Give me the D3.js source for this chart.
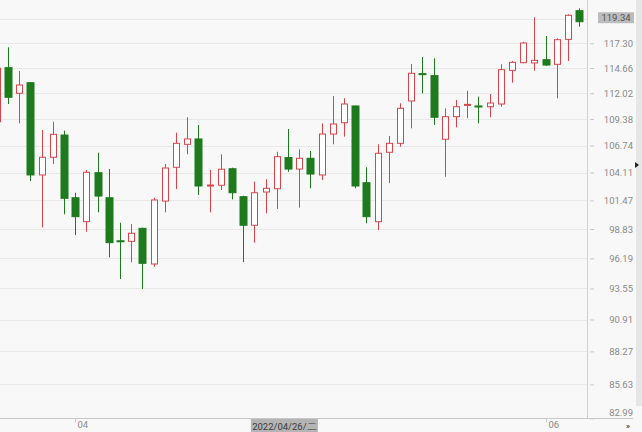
<!DOCTYPE html>
<html>
<head>
<meta charset="utf-8">
<script src="https://cdn.jsdelivr.net/npm/d3@7"></script>
<style>
  html, body { margin: 0; padding: 0; background: #f8f8f8; }
  svg { display: block; }
  text { font-family: Roboto, "Noto Sans", sans-serif; }
</style>
</head>
<body>
<svg id="chart" width="642" height="432"></svg>
<script>
// ---- data ----
const opens  = [109.11,114.69,112.01,113.11,103.88,105.59,107.78,101.72, 99.50,104.10,
                101.72, 97.76, 97.71, 98.89, 95.69,101.41,104.62,106.86,107.39,102.86,
                102.90,104.48,101.82, 99.17,102.26,102.57,105.57,104.45,105.49,103.88,
                107.88,109.01,110.71,103.14, 99.50,106.08,106.96,111.22,114.06,113.85,
                107.36,109.62,110.81,110.71,110.63,110.91,114.41,115.22,115.19,115.54,
                115.05,117.73,120.88];
const highs  = [114.90,116.87,114.34,113.15,108.28,109.11,108.21,102.19,104.36,106.04,
                104.45, 99.40, 99.29, 98.95,101.72,104.94,108.01,109.56,108.78,104.36,
                105.88,104.58,101.91,103.24,103.47,106.13,108.38,106.37,106.20,108.95,
                111.73,111.50,110.74,104.62,106.86,107.68,110.98,115.08,115.82,115.69,
                110.47,111.32,112.28,111.66,111.94,115.05,115.40,117.47,120.15,118.09,
                117.84,120.48,121.15];
const lows   = [108.80,110.91,108.95,103.30, 98.97,104.94,100.18, 98.28, 98.58,100.36,
                 96.28, 94.37, 95.84, 93.51, 95.45,100.36,102.54,105.88,101.98,100.36,
                102.45,101.57, 95.86, 97.59,100.27,100.67,104.19,100.79,102.61,103.40,
                106.86,107.62,102.61, 99.35, 98.74,103.09,106.63,108.45,112.01,108.78,
                103.71,108.55,109.46,108.95,109.56,110.63,113.11,115.16,114.37,114.87,
                111.50,115.40,119.11];
const closes = [114.63,111.60,112.87,103.88,105.59,107.85,101.67, 99.96,104.14,101.88,
                 97.59, 97.70, 98.44, 95.75,101.51,104.55,106.96,107.39,102.83,102.92,
                104.43,102.19, 99.17,102.19,102.61,105.65,104.45,105.49,103.97,107.88,
                108.88,110.91,102.83, 99.96,105.98,106.96,110.47,114.10,113.99,109.56,
                109.62,110.63,110.87,110.65,111.01,114.48,115.26,117.33,115.47,114.97,
                117.69,120.37,119.66];

// grid levels; the top one (119.95) carries no visible label (covered by the price tag)
const gridValues  = [82.99, 85.63, 88.27, 90.91, 93.55, 96.19, 98.83, 101.47, 104.11,
                     106.74, 109.38, 112.02, 114.66, 117.30, 119.95];
const yTickValues = [82.99, 85.63, 88.27, 90.91, 93.55, 96.19, 98.83, 101.47, 104.11,
                     106.74, 109.38, 112.02, 114.66, 117.30];
const xTickIndex  = [7, 49];
const xTickLabels = ["04", "06"];
const crossIndex  = 23;
const crossLabel  = "2022/04/26/二";
const lastPriceLabel = "119.34";

// ---- layout ----
const W = 642, H = 432;
const plotRight = 587, plotBottom = 418.3;
const RED = "#d9434a", GREEN = "#1d7a1d";

const candles = opens.map((o, i) => ({ i, o, h: highs[i], l: lows[i], c: closes[i] }));

const x = d3.scaleBand().domain(d3.range(candles.length)).range([-8.8, 584.8]);
const cx = i => x(i) + x.bandwidth() / 2;
const y = d3.scaleLog().domain([82.99, 117.30]).range([plotBottom, 43.3]);

const svg = d3.select("#chart");
svg.append("rect").attr("width", W).attr("height", H).attr("fill", "#f8f8f8");

// gridlines
svg.append("g").selectAll("line").data(gridValues).join("line")
  .attr("x1", 0).attr("x2", plotRight)
  .attr("y1", d => Math.round(y(d)) + 0.5).attr("y2", d => Math.round(y(d)) + 0.5)
  .attr("stroke", "#e8e8e8").attr("stroke-width", 1);

// candles
const plot = svg.append("g");
const g = plot.selectAll("g.candle").data(candles).join("g").attr("class", "candle");
g.append("line")
  .attr("x1", d => Math.round(cx(d.i)) + 0.5).attr("x2", d => Math.round(cx(d.i)) + 0.5)
  .attr("y1", d => y(d.h)).attr("y2", d => y(d.l))
  .attr("stroke", d => d.c >= d.o ? RED : GREEN).attr("stroke-width", 1);
g.append("rect")
  .attr("x", d => d.c >= d.o ? Math.round(cx(d.i)) - 2.5 : Math.round(cx(d.i)) - 3)
  .attr("width", d => d.c >= d.o ? 6 : 7)
  .attr("y", d => y(Math.max(d.o, d.c)))
  .attr("height", d => Math.max(1, y(Math.min(d.o, d.c)) - y(Math.max(d.o, d.c))))
  .attr("fill", d => d.c >= d.o ? "#ffffff" : GREEN)
  .attr("stroke", d => d.c >= d.o ? RED : GREEN)
  .attr("stroke-width", 1);

// right axis
svg.append("line").attr("x1", plotRight + 0.5).attr("x2", plotRight + 0.5)
  .attr("y1", 0).attr("y2", plotBottom).attr("stroke", "#cfcfcf");
const yAxis = d3.axisRight(y).tickValues(yTickValues)
  .tickFormat(d => d.toFixed(2)).tickSize(4).tickPadding(4);
const ya = svg.append("g").attr("transform", `translate(${plotRight + 3},0)`).call(yAxis);
ya.select(".domain").remove();
ya.selectAll(".tick line").attr("stroke", "#c8c8c8");
ya.selectAll(".tick text")
  .attr("x", 43).attr("text-anchor", "end")
  .attr("fill", "#8a8a8a").attr("font-size", 9.5)
  .attr("dy", d => y(d) > 410 ? "-0.3em" : "0.32em");

// bottom axis line
svg.append("line").attr("x1", 0).attr("x2", 633)
  .attr("y1", Math.round(plotBottom) + 0.5).attr("y2", Math.round(plotBottom) + 0.5)
  .attr("stroke", "#c8c8c8");

// x ticks
const xt = svg.append("g").selectAll("g").data(xTickIndex).join("g")
  .attr("transform", d => `translate(${Math.round(cx(d)) + 0.5},0)`);
xt.append("line").attr("y1", plotBottom).attr("y2", plotBottom + 4).attr("stroke", "#c8c8c8");
xt.append("text").attr("x", 2).attr("y", 428).attr("font-size", 9.5).attr("fill", "#8a8a8a")
  .text((d, k) => xTickLabels[k]);

// crosshair date label
const cxPos = cx(crossIndex) - 3.5;
svg.append("rect").attr("x", cxPos).attr("y", 419).attr("width", 67).attr("height", 13)
  .attr("fill", "#b4b4b4");
svg.append("text").attr("x", cxPos + 33.5).attr("y", 429.5).attr("text-anchor", "middle")
  .attr("font-size", 9.5).attr("fill", "#3a3a3a").text(crossLabel);

// last price label
const lpY = y(closes[closes.length - 1]) - 4;
svg.append("rect").attr("x", 598).attr("y", lpY - 5.5).attr("width", 36).attr("height", 11)
  .attr("fill", "#bcbcbc");
svg.append("text").attr("x", 616).attr("y", lpY).attr("dy", "0.35em").attr("text-anchor", "middle")
  .attr("font-size", 9.5).attr("fill", "#555").text(lastPriceLabel);

// right scroll strip & markers
svg.append("rect").attr("x", 636).attr("y", 0).attr("width", 6).attr("height", 406).attr("fill", "#e6e6e6");
svg.append("path").attr("d", "M635,162 L639,165 L635,168 Z").attr("fill", "#222");
svg.append("text").attr("x", 628).attr("y", 428).attr("text-anchor", "middle")
  .attr("font-size", 8).attr("font-weight", "bold").attr("fill", "#333").text("»");
</script>
</body>
</html>
